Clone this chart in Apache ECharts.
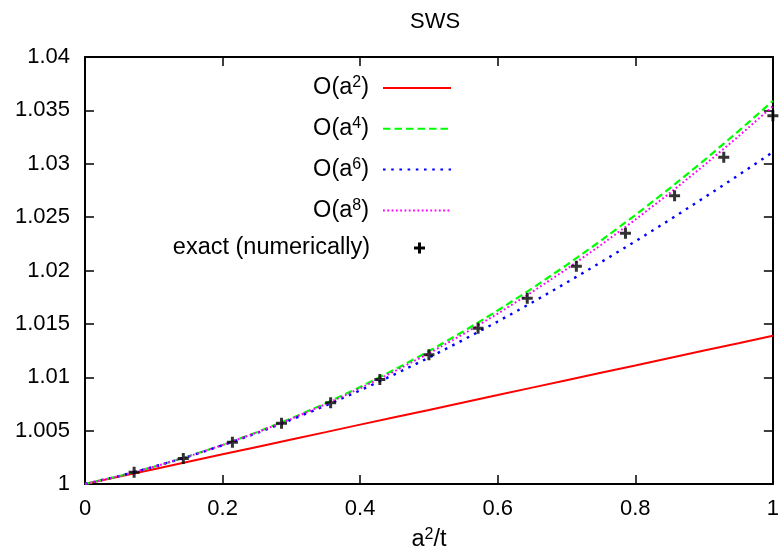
<!DOCTYPE html>
<html>
<head>
<meta charset="utf-8">
<script src="https://cdn.jsdelivr.net/npm/echarts@6/dist/echarts.min.js"></script>
<style>html,body{margin:0;padding:0;background:#fff}#c{width:782px;height:559px}</style>
</head>
<body>
<div id="c"></div>
<script>
// ---- data ----
const xLine = [0, 0.05, 0.1, 0.15, 0.2, 0.25, 0.3, 0.35, 0.4, 0.45, 0.5, 0.55, 0.6, 0.65, 0.7, 0.75, 0.8, 0.85, 0.9, 0.95, 1.0];
const yO2 = [1, 1.00069, 1.00139, 1.00208, 1.00278, 1.00347, 1.00417, 1.00486, 1.00556, 1.00625, 1.00694, 1.00764, 1.00833, 1.00903, 1.00972, 1.01042, 1.01111, 1.01181, 1.0125, 1.01319, 1.01389];
const yO4 = [1, 1.00075, 1.00161, 1.00258, 1.00366, 1.00485, 1.00615, 1.00756, 1.00908, 1.01071, 1.01244, 1.01429, 1.01625, 1.01832, 1.02050, 1.02279, 1.02519, 1.02770, 1.03032, 1.03305, 1.03589];
const yO6 = [1, 1.00075, 1.00161, 1.00256, 1.00362, 1.00477, 1.00602, 1.00735, 1.00877, 1.01027, 1.01184, 1.01350, 1.01522, 1.01700, 1.01886, 1.02077, 1.02273, 1.02475, 1.02682, 1.02893, 1.03109];
const yO8 = [1, 1.00075, 1.00161, 1.00258, 1.00365, 1.00483, 1.00610, 1.00748, 1.00897, 1.01056, 1.01224, 1.01404, 1.01596, 1.01799, 1.02013, 1.02239, 1.02476, 1.02725, 1.02985, 1.03257, 1.03539];
const xExact = [0.0714, 0.1429, 0.2143, 0.2857, 0.3571, 0.4286, 0.5, 0.5714, 0.6429, 0.7143, 0.7857, 0.8571, 0.9286, 1.0];
const yExact = [1.0011, 1.0024, 1.0039, 1.0057, 1.0076, 1.0098, 1.0121, 1.0146, 1.0174, 1.0204, 1.0235, 1.0270, 1.0306, 1.0345];
const xTickLabels = ['0', '0.2', '0.4', '0.6', '0.8', '1'];
const yTickLabels = ['1', '1.005', '1.01', '1.015', '1.02', '1.025', '1.03', '1.035', '1.04'];
const seriesNames = ['O(a2)', 'O(a4)', 'O(a6)', 'O(a8)', 'exact (numerically)'];
const supDigits = ['2', '4', '6', '8'];

const pair = (xs, ys) => xs.map((x, i) => [x, ys[i]]);
const FONT = '"Liberation Sans", Arial, Helvetica, sans-serif';
const FS = 22;
const FL = 23.5;
const plus = 'path://M4,0H7V4H11V7H7V11H4V7H0V4H4Z';

const chart = echarts.init(document.getElementById('c'), null, {renderer: 'canvas'});

const richCommon = {
  n: {fontFamily: FONT, fontSize: FL, color: '#000', lineHeight: 26, verticalAlign: 'middle'},
  s: {fontFamily: FONT, fontSize: 16, color: '#000', lineHeight: 13, verticalAlign: 'top'},
  g: {width: 9},
  g2: {width: 39}
};

const xAxisBase = {
  type: 'value', min: 0, max: 1, interval: 0.2,
  axisLine: {show: true, onZero: false, lineStyle: {color: '#000', width: 2}},
  axisTick: {show: true, inside: true, length: 9, lineStyle: {color: '#000', width: 1.5}},
  splitLine: {show: false}
};
const yAxisBase = {
  type: 'value', min: 1, max: 1.04, interval: 0.005,
  axisLine: {show: true, onZero: false, lineStyle: {color: '#000', width: 2}},
  axisTick: {show: true, inside: true, length: 9, lineStyle: {color: '#000', width: 1.5}},
  splitLine: {show: false}
};

const option = {
  animation: false,
  backgroundColor: '#fff',
  title: {
    text: 'SWS', left: 405, top: 6,
    textStyle: {fontFamily: FONT, fontSize: FS, fontWeight: 'normal', color: '#000'}
  },
  grid: {left: 85, right: 7, top: 57, bottom: 75, containLabel: false},
  legend: [
    {
      data: seriesNames.slice(0, 4),
      orient: 'vertical', align: 'right', right: 330, top: 75, padding: 0,
      itemWidth: 68, itemHeight: 14, itemGap: 15.8,
      itemStyle: {opacity: 0},
      formatter: name => {
        const i = seriesNames.indexOf(name);
        return '{n|O(a}{s|' + supDigits[i] + '}{n|)}{g| }';
      },
      textStyle: {rich: richCommon}
    },
    {
      data: [{name: seriesNames[4], icon: plus}],
      orient: 'vertical', align: 'right', right: 357, top: 236, padding: 0,
      itemWidth: 11, itemHeight: 11,
      itemStyle: {color: '#000', opacity: 1},
      formatter: name => '{n|' + name + '}{g2| }',
      textStyle: {rich: richCommon}
    }
  ],
  xAxis: [
    Object.assign({}, xAxisBase, {
      position: 'bottom',
      name: '{n|a}{s|2}{n|/t}', nameLocation: 'middle', nameGap: 43,
      nameTextStyle: {rich: richCommon},
      axisLabel: {
        show: true, margin: 14, color: '#000', fontFamily: FONT, fontSize: FS,
        formatter: v => xTickLabels[Math.round(v / 0.2)]
      }
    }),
    Object.assign({}, xAxisBase, {position: 'top', axisLabel: {show: false}})
  ],
  yAxis: [
    Object.assign({}, yAxisBase, {
      position: 'left',
      axisLabel: {
        show: true, margin: 15, color: '#000', fontFamily: FONT, fontSize: FS,
        formatter: v => yTickLabels[Math.round((v - 1) / 0.005)]
      }
    }),
    Object.assign({}, yAxisBase, {position: 'right', axisLabel: {show: false}})
  ],
  series: [
    {name: seriesNames[0], type: 'line', data: pair(xLine, yO2), showSymbol: false, symbol: 'none',
     color: '#ff0000', lineStyle: {color: '#ff0000', width: 2}, z: 2},
    {name: seriesNames[1], type: 'line', data: pair(xLine, yO4), showSymbol: false, symbol: 'none',
     color: '#00ff00', lineStyle: {color: '#00ff00', width: 2.2, type: [7.5, 4]}, z: 3},
    {name: seriesNames[2], type: 'line', data: pair(xLine, yO6), showSymbol: false, symbol: 'none',
     color: '#0000ff', lineStyle: {color: '#0000ff', width: 2.4, type: [2.6, 5.6]}, z: 4},
    {name: seriesNames[3], type: 'line', data: pair(xLine, yO8), showSymbol: false, symbol: 'none',
     color: '#ff00ff', lineStyle: {color: '#ff00ff', width: 2, type: [1.8, 2.5]}, z: 5},
    {name: seriesNames[4], type: 'scatter', data: pair(xExact, yExact), symbol: plus, symbolSize: 11,
     color: '#000', itemStyle: {color: '#000'}, z: 6}
  ]
};
chart.setOption(option);
</script>
</body>
</html>
